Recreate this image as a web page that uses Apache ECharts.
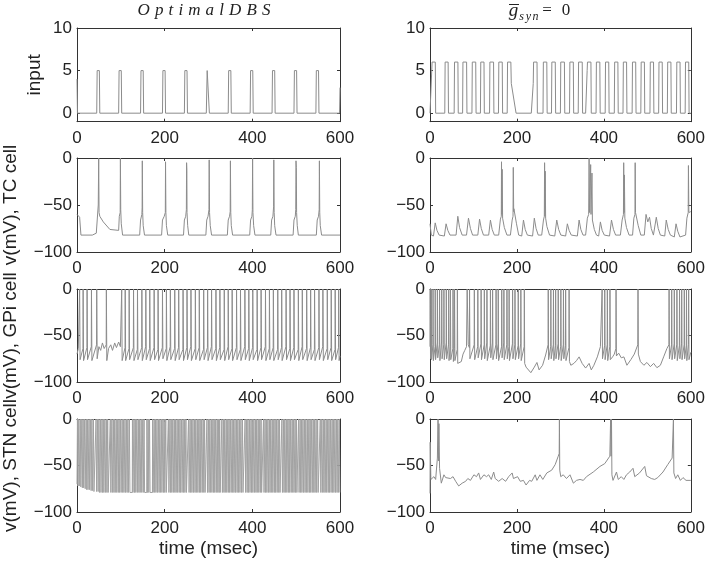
<!DOCTYPE html>
<html><head><meta charset="utf-8">
<script src="https://cdn.jsdelivr.net/npm/echarts@6/dist/echarts.min.js"></script>
<style>html,body{margin:0;padding:0;background:#fff}#c{width:708px;height:565px}</style>
</head><body><div id="c"></div><script>
// ---------- data (time in msec, value) ----------
const xTicks = [0, 200, 400, 600];
const inputTicks = [0, 5, 10];
const voltTicks = [-100, -50, 0];

const inputLeft = [[0,4],[1,0],
[45,0],[46,5],[51,5],[52,0],[95,0],[96,5],[101,5],[102,0],[145,0],[146,5],[151,5],[152,0],
[195,0],[196,5],[201,5],[202,0],[245,0],[246,5],[251,5],[252,0],[295,0],[297,5],[301,5],[302,0],
[345,0],[346,5],[351,5],[352,0],[395,0],[396,5],[401,5],[402,0],[445,0],[446,5],[451,5],[452,0],
[495,0],[496,5],[501,5],[502,0],[545,0],[546,5],[551,5],[552,0],[599,0],[600,3]];

const inputRight = [[0,0],[4,0],[4.8,6],[12.2,6],[13,0],
[34,0],[34.8,6],[41.7,6],[42.5,0],[55.6,0],[56.4,6],[64.2,6],[65,0],[75,0],[75.8,6],[84.2,6],[85,0],
[96.5,0],[97.3,6],[105.2,6],[106,0],[116,0],[116.8,6],[124.2,6],[125,0],[137,0],[137.8,6],[146.2,6],[147,0],
[157.5,0],[158.3,6],[166.2,6],[167,0],[177.6,0],[178.4,6],[186,6],[187,3.5],[198,0],
[233,0],[237.5,3.5],[238.3,6],[246.2,6],[247,0],[260,0],[260.8,6],[268.7,6],[269.5,0],
[279.5,0],[280.3,6],[288.2,6],[289,0],[300,0],[300.8,6],[309.2,6],[310,0],[321,0],[321.8,6],[329.7,6],[330.5,0],
[341,0],[341.8,6],[350.2,6],[351,0],[358,0],[361.5,5],[362.3,6],[370.2,6],[371,0],
[382,0],[382.8,6],[390.7,6],[391.5,0],[403,0],[403.8,6],[411.2,6],[412,0],[424,0],[424.8,6],[432.2,6],[433,0],
[444,0],[444.8,6],[452.2,6],[453,0],[465,0],[465.8,6],[473.2,6],[474,0],[485,0],[485.8,6],[493.2,6],[494,0],
[506,0],[506.8,6],[514.2,6],[515,0],[526,0],[526.8,6],[534.2,6],[535,0],[546,0],[546.8,6],[554.2,6],[555,0],
[567,0],[567.8,6],[575.2,6],[576,0],[587,0],[587.8,6],[595.2,6],[596,0],[600,0]];

const tcLeft = [[0,-60],[4,-61],[6,-63],[9,-82],[35,-82],[44,-80],[47,-78],
[48.5,-50],[49.5,0],[50.3,-58],[52,-62],[60,-68],[75,-76],[95,-77],
[96.5,-62],[98.5,-58],[99,0],[99.8,-55],[101,-70],[104,-82],
[143,-82],[145,-66],[148,-60],[148.6,-53],[149,-3],[149.8,-58],[151,-72],[154,-82],
[193,-82],[195,-66],[199,-62],[201.5,-58],[202,-4],[202.8,-58],[204,-72],[207,-82],
[243,-82],[245,-66],[248,-62],[249.5,-55],[250,-5],[250.6,-13],[251,-58],[252.5,-72],[255,-82],
[294,-82],[296,-66],[299,-62],[301,-55],[301.6,-2],[302.4,-58],[304,-72],[307,-82],
[343,-82],[345,-66],[348,-62],[349.5,-57],[350,-3],[350.8,-58],[352,-72],[355,-82],
[394,-82],[396,-66],[399,-62],[400,-55],[400.6,0],[401.4,-58],[403,-72],[406,-82],
[442,-82],[444,-66],[447,-62],[448.5,-52],[449,-2],[449.8,-58],[451,-72],[454,-82],
[493,-82],[495,-66],[498,-62],[499,-55],[499.6,-3],[500.4,-10],[501,-58],[502.5,-72],[505,-82],
[546,-82],[548,-66],[551,-62],[552.5,-55],[553,-3],[553.8,-58],[555,-72],[558,-82],[600,-82]];

const tcRight = [[0,-70],[3,-82],[8,-83],[12,-69],[16,-77],[21,-82],
[33,-83],[37,-70],[41,-77],[46,-82],[60,-82],[64,-62],[68,-74],[74,-82],
[84,-82],[88.5,-64],[93,-75],[98,-82],[110,-82],[114,-65],[118,-75],[123,-82],
[135,-82],[139,-66],[143,-76],[148,-82],
[158,-82],[162,-65],[164,-62],[164.5,-4],[165.3,-60],[166,-12],[167,-64],[171,-74],[177,-82],
[185,-82],[189,-66],[191,-62],[191.6,-10],[192.5,-57],[193,-54],[197,-55],[199,-70],[204,-82],
[211,-83],[215,-66],[219,-76],[224,-82],[236,-83],[240,-64],[244,-75],[249,-82],
[257,-82],[261,-66],[263,-62],[263.6,-5],[264.5,-62],[265,-14],[266,-64],[269,-73],[275,-82],
[287,-83],[291.6,-66],[296,-76],[301,-82],[312,-83],[316,-70],[320,-77],[325,-82],
[339,-83],[343,-66],[347,-76],[352,-82],
[358,-82],[362,-64],[365,-60],[366,0],[367,-58],[369,-60],[369.6,-7],[370.4,-60],[372,-62],[372.6,-16],[373.6,-66],[378,-76],[383,-82],
[388,-83],[392,-68],[396,-77],[401,-82],[413,-83],[417.5,-66],[422,-76],[427,-82],
[438,-82],[442,-66],[445,-60],[445.6,-5],[446.5,-58],[447.2,-18],[448.2,-64],[452,-74],[458,-82],
[466,-82],[469,-64],[471.5,-60],[472,-5],[472.8,-58],[476,-60],[479,-72],[485,-82],
[493,-82],[497,-60],[501,-68],[505,-63],[509,-75],[514,-82],[517,-83],[520.6,-63],[525,-75],[530,-82],
[540,-83],[543.5,-66],[548,-76],[553,-82],[562,-84],[566,-70],[570,-78],[575,-84],
[588,-82],[591,-64],[594,-58],[594.5,-8],[595.5,-58],[600,-57]];

const gpiLeft = [[0,-70],[3,-64],
[5.6,-62],[6,0],[7,-76],[13.6,-64],[14,0],[15,-77],[22.6,-63],[23,0],[24,-76],[32.6,-62],[33,0],[34,-77],
[44.6,-60],[45,0],[46,-75],[50,-62],[54,-66],[58,-58],[62,-64],
[66.6,-60],[67,0],[68,-77],[72,-64],[77,-60],[81,-66],[86,-58],[90,-63],[95,-57],[99,-62],
[101.6,-62],[102,0],[103,-77],[109.6,-63],[110,0],[111,-77],[118.6,-64],[119,0],[120,-76],
[128.6,-63],[129,0],[130,-77],[137.6,-65],[138,0],[139,-76],[147.6,-63],[148,0],[149,-77],
[156.6,-62],[157,0],[158,-76],[165.6,-64],[166,0],[167,-77],[175.6,-63],[176,0],[177,-76],
[184.6,-65],[185,0],[186,-77],[194.6,-63],[195,0],[196,-75],[203.6,-64],[204,0],[205,-77],
[212.6,-62],[213,0],[214,-76],[222.6,-64],[223,0],[224,-77],[231.6,-63],[232,0],[233,-76],
[241.6,-65],[242,0],[243,-77],[250.6,-63],[251,0],[252,-76],[259.6,-62],[260,0],[261,-77],
[269.6,-64],[270,0],[271,-76],[278.6,-63],[279,0],[280,-77],[288.6,-65],[289,0],[290,-76],
[297.6,-63],[298,0],[299,-77],[306.6,-62],[307,0],[308,-76],[316.6,-64],[317,0],[318,-77],
[325.6,-63],[326,0],[327,-76],[335.6,-65],[336,0],[337,-77],[344.6,-62],[345,0],[346,-76],
[353.6,-64],[354,0],[355,-77],[363.6,-63],[364,0],[365,-76],[372.6,-65],[373,0],[374,-77],
[382.6,-62],[383,0],[384,-76],[391.6,-64],[392,0],[393,-77],[400.6,-63],[401,0],[402,-76],
[410.6,-65],[411,0],[412,-77],[419.6,-63],[420,0],[421,-76],[429.6,-62],[430,0],[431,-77],
[438.6,-64],[439,0],[440,-76],[447.6,-63],[448,0],[449,-77],[457.6,-65],[458,0],[459,-76],
[466.6,-63],[467,0],[468,-77],[476.6,-62],[477,0],[478,-76],[485.6,-64],[486,0],[487,-77],
[494.6,-63],[495,0],[496,-76],[504.6,-65],[505,0],[506,-77],[513.6,-62],[514,0],[515,-76],
[523.6,-64],[524,0],[525,-77],[532.6,-63],[533,0],[534,-76],[541.6,-65],[542,0],[543,-77],
[551.6,-63],[552,0],[553,-76],[560.6,-62],[561,0],[562,-77],[570.6,-64],[571,0],[572,-76],
[579.6,-63],[580,0],[581,-77],[588.6,-65],[589,0],[590,-76],[596.6,-63],[597,0],[598,-77],[600,-72]];

const gpiRight = [[0,-62],[0.4,0],[1.2,-75],[2.6,-62],[3,0],[3.8,-76],[6.6,-60],[7,0],[7.8,-77],
[11.6,-62],[12,0],[12.8,-76],[16.6,-58],[17,0],[17.8,-74],[21.6,-60],[22,0],[22.8,-77],
[26.6,-57],[27,0],[27.8,-75],[31.6,-60],[32,0],[32.8,-76],[37.1,-58],[37.5,0],[38.3,-75],
[42.6,-60],[43,0],[43.8,-77],[46.6,-62],[47,0],[47.8,-76],[52.6,-64],[53,0],[53.8,-78],
[56.1,-64],[56.5,0],[57.3,-77],[62.6,-65],[63,0],[63.8,-80],
[68,-82],[72,-78],[76,-70],[80,-66],[84,-62],[85.5,0],[88,-60],
[90.6,-63],[91,0],[91.8,-75],[101.6,-60],[102,0],[102.8,-76],[109.6,-62],[110,0],[110.8,-74],
[117.2,-59],[117.6,0],[118.4,-76],[124.6,-60],[125,0],[125.8,-75],[130.6,-58],[131,0],[131.8,-77],
[138.6,-61],[139,0],[139.8,-74],[143.6,-58],[144,0],[144.8,-76],[151.6,-60],[152,0],[152.8,-75],
[156.6,-59],[157,0],[157.8,-77],[164.6,-62],[165,0],[165.8,-74],[169.6,-58],[170,0],[170.8,-76],
[176.6,-60],[177,0],[177.8,-75],[181.6,-62],[182,0],[182.8,-77],[189.6,-59],[190,0],[190.8,-75],
[195.1,-60],[195.5,0],[196.3,-76],[202.6,-61],[203,0],[203.8,-75],[208.6,-59],[209,0],[209.8,-77],
[216.6,-62],[217,0],[217.8,-80],
[221,-84],[224,-85],[232,-90],[240,-84],[246,-79],[251,-87],[259,-82],[266,-71],
[271.6,-60],[272,0],[272.8,-76],[277.6,-62],[278,0],[278.8,-75],[283.6,-60],[284,0],[284.8,-77],
[288.6,-61],[289,0],[289.8,-75],[294.6,-59],[295,0],[295.8,-76],[300.6,-62],[301,0],[301.8,-77],
[306.6,-60],[307,0],[307.8,-75],[311.6,-61],[312,0],[312.8,-77],[319.6,-63],[320,0],[320.8,-78],
[324,-82],[331,-80],[337,-77],[343,-73],[350,-80],[358,-85],[366,-80],[371,-87],[377,-82],[385,-73],[392,-62],
[395.6,-60],[396,0],[396.8,-75],[401.6,-61],[402,0],[402.8,-76],[407.6,-60],[408,0],[408.8,-77],
[413.6,-62],[414,0],[414.8,-76],[420,-73],[424,-70],[427.6,-64],[428,0],[428.8,-72],
[434,-69],[440,-74],[446,-73],[453,-82],[462,-76],[470,-70],[478,-60],[478.5,0],[479.3,-70],
[484,-78],[492,-82],[499,-79],[507,-83.5],[514.5,-80],[522,-84.6],[530,-82],[537.5,-73],[545,-64],
[549.6,-60],[550,0],[550.8,-75],[555.6,-60],[556,0],[556.8,-76],[561.6,-59],[562,0],[562.8,-75],
[567.6,-60],[568,0],[568.8,-77],[573.6,-61],[574,0],[574.8,-75],[578.6,-59],[579,0],[579.8,-76],
[584.6,-60],[585,0],[585.8,-75],[589.6,-61],[590,0],[590.8,-77],[594.6,-60],[595,0],[595.8,-76],[600,-68]];

const stnLeft = [[0,-70],
[1,0],[2.2,-72],[4,0],[5.2,-72],[7.5,0],[8.7,-73],[11,0],[12.2,-74],[14,0],[15.2,-74],[17.5,0],[18.7,-75],
[21,0],[22.2,-76],[24,0],[25.2,-76],[27.5,0],[28.7,-76],[31,0],[32.2,-77],[34,0],[35.2,-77],[37.5,0],[38.7,-78],
[43.1,-78],[43.5,0],[44.7,-78],[47,0],[48.2,-78],[50,0],[51.2,-79],[53.5,0],[54.7,-79],[57,0],[58.2,-79],
[60,0],[61.2,-79],[63.5,0],[64.7,-79],[67,0],[68.2,-79],[70,0],[71.2,-79],
[75.6,-79],[76,0],[77.2,-79],[79.5,0],[80.7,-79],[83,0],[84.2,-79],[86,0],[87.2,-79],[89.5,0],[90.7,-79],
[93,0],[94.2,-79],[96,0],[97.2,-79],[99.5,0],[100.7,-79],[103,0],[104.2,-79],[106,0],[107.2,-79],
[109.5,0],[110.7,-79],[113,0],[114.2,-79],[116,0],[117.2,-79],[119.5,0],[120.7,-79],
[126.1,-79],[126.5,0],[127.7,-79],[130,0],[131.2,-79],[133,0],[134.2,-79],[136.5,0],[137.7,-79],
[140,0],[141.2,-79],[143,0],[144.2,-79],[146.5,0],[147.7,-79],[150,0],[151.2,-79],[153,0],[154.2,-79],
[159.1,-79],[159.5,0],[160.7,-79],[162.5,0],[163.7,-79],[165.5,0],[166.7,-79],
[172.1,-79],[172.5,0],[173.7,-79],[176,0],[177.2,-79],[179,0],[180.2,-79],[182.5,0],[183.7,-79],
[186,0],[187.2,-79],[189,0],[190.2,-79],[192.5,0],[193.7,-79],[196,0],[197.2,-79],[199,0],[200.2,-79],
[202.5,0],[203.7,-79],
[208.1,-79],[208.5,0],[209.7,-79],[212,0],[213.2,-79],[215,0],[216.2,-79],[218.5,0],[219.7,-79],
[222,0],[223.2,-79],[225,0],[226.2,-79],[228.5,0],[229.7,-79],[232,0],[233.2,-79],[235,0],[236.2,-79],
[238.5,0],[239.7,-79],[242,0],[243.2,-79],[245,0],[246.2,-79],[248.5,0],[249.7,-79],
[254.1,-79],[254.5,0],[255.7,-79],[258,0],[259.2,-79],[261,0],[262.2,-79],[264.5,0],[265.7,-79],
[268,0],[269.2,-79],[271,0],[272.2,-79],[274.5,0],[275.7,-79],[278,0],[279.2,-79],[281,0],[282.2,-79],
[284.5,0],[285.7,-79],[288,0],[289.2,-79],[291,0],[292.2,-79],
[296.1,-79],[296.5,0],[297.7,-79],[300,0],[301.2,-79],[303,0],[304.2,-79],[306.5,0],[307.7,-79],
[310,0],[311.2,-79],[313,0],[314.2,-79],[316.5,0],[317.7,-79],[320,0],[321.2,-79],[323,0],[324.2,-79],
[325.5,0],[326.7,-79],
[330.1,-79],[330.5,0],[331.7,-79],[334,0],[335.2,-79],[337,0],[338.2,-79],[340.5,0],[341.7,-79],
[344,0],[345.2,-79],[347,0],[348.2,-79],[350.5,0],[351.7,-79],[354,0],[355.2,-79],[357,0],[358.2,-79],
[360.5,0],[361.7,-79],[364,0],[365.2,-79],[367,0],[368.2,-79],[370.5,0],[371.7,-79],[374,0],[375.2,-79],
[377.5,0],[378.7,-79],
[383.1,-79],[383.5,0],[384.7,-79],[387,0],[388.2,-79],[390,0],[391.2,-79],[393.5,0],[394.7,-79],
[397,0],[398.2,-79],[400,0],[401.2,-79],[403.5,0],[404.7,-79],[407,0],[408.2,-79],[410,0],[411.2,-79],
[413.5,0],[414.7,-79],[417,0],[418.2,-79],[420,0],[421.2,-79],
[425.1,-79],[425.5,0],[426.7,-79],[429,0],[430.2,-79],[432,0],[433.2,-79],[435.5,0],[436.7,-79],
[439,0],[440.2,-79],[442,0],[443.2,-79],[445.5,0],[446.7,-79],[449,0],[450.2,-79],[452,0],[453.2,-79],
[455.5,0],[456.7,-79],[459,0],[460.2,-79],[462,0],[463.2,-79],
[467.1,-79],[467.5,0],[468.7,-79],[471,0],[472.2,-79],[474,0],[475.2,-79],[477.5,0],[478.7,-79],
[481,0],[482.2,-79],[484,0],[485.2,-79],[487.5,0],[488.7,-79],[491,0],[492.2,-79],[494,0],[495.2,-79],
[497.5,0],[498.7,-79],[500.5,0],[501.7,-79],
[505.1,-79],[505.5,0],[506.7,-79],[509,0],[510.2,-79],[512,0],[513.2,-79],[515.5,0],[516.7,-79],
[519,0],[520.2,-79],[522,0],[523.2,-79],[525.5,0],[526.7,-79],[529,0],[530.2,-79],[532,0],[533.2,-79],
[535.5,0],[536.7,-79],[539,0],[540.2,-79],[542,0],[543.2,-79],[545.5,0],[546.7,-79],[549,0],[550.2,-79],
[554.6,-79],[555,0],[556.2,-79],[558.5,0],[559.7,-79],[562,0],[563.2,-79],[565,0],[566.2,-79],
[568.5,0],[569.7,-79],[572,0],[573.2,-79],[575,0],[576.2,-79],[578.5,0],[579.7,-79],[582,0],[583.2,-79],
[585,0],[586.2,-79],[588.5,0],[589.7,-79],[592,0],[593.2,-79],[595,0],[596.2,-79],[598.5,0],[599.7,-79],[600,-79]];

const stnRight = [[0,-80],[0.5,-25],[2,-65],[9,-62],[13,-65],[17,-42],[18.5,0],[19.5,-45],[20.5,-5],[22,-53],
[26,-69],[32,-60],[36,-63],[40,-61],[47,-64],[53,-62],[59,-67],[66,-72],[74,-69],[82,-67],[87,-64],[93,-66],
[101,-60],[107,-62],[112,-58],[116,-65],[124,-60],[130,-62],[135,-60],[141,-65],[146.5,-57],[150,-64],
[158,-67],[166,-64],[174,-67],[181,-62],[189,-58],[192,-64],[201.5,-62],[207.6,-67],[215,-66],[221,-71],
[229,-66],[234,-67],[242,-60],[246,-66],[253,-60],[259.5,-65],[268.7,-58],[280,-55],[288,-49],[295,-40],
[297.2,-37],[297.7,0],[298.5,-55],[300.8,-62],[306.5,-60],[314,-64],[322,-60],[329.8,-69],[337,-66],
[345,-65],[352.7,-66],[360,-62],[375.6,-57],[391,-51],[402,-48],[413.7,-40],[415,-38],[415.5,0],[416.5,-40],
[417.5,0],[418.5,-60],[421,-66],[429,-57],[433,-65],[440,-62],[446,-65],[452,-60],[459.5,-57],[467,-53],
[471,-62],[482,-58],[494,-51],[498,-61],[509,-64],[517,-65],[524,-63],[536,-57],[547,-49],[557,-42],
[559.5,-40],[560,0],[561,-58],[565,-64],[570,-60],[576,-66],[582,-63],[589,-66],[600,-66]];

// ---------- layout ----------
const FONT = "'Liberation Sans', Arial, Helvetica, sans-serif";
const SERIF = "'Liberation Serif', 'DejaVu Serif', serif";
const colX = [77, 430], colW = [263, 262];
const rowY = [28, 158, 289, 419], rowH = [93.7, 94, 93, 93];
const LINE = '#8c8c8c';

const panels = [
  {data: inputLeft,  col:0, row:0, name:'input', gap:33},
  {data: inputRight, col:1, row:0},
  {data: tcLeft,     col:0, row:1, name:'v(mV), TC cell', gap:57},
  {data: tcRight,    col:1, row:1},
  {data: gpiLeft,    col:0, row:2, name:'v(mV), GPi cell', gap:57},
  {data: gpiRight,   col:1, row:2},
  {data: stnLeft,    col:0, row:3, name:'v(mV), STN cell', gap:57, color:'#a2a2a2'},
  {data: stnRight,   col:1, row:3}
];

const grid = [], xAxis = [], yAxis = [], series = [];
const axLine = {show:true, onZero:false, lineStyle:{color:'#333', width:1}};
const tickStyle = {color:'#222', fontSize:17, fontFamily:FONT};
const nameStyle = {color:'#222', fontSize:19, fontFamily:FONT};
const fmt = v => String(v).replace('-', '\u2212');

panels.forEach((p, i) => {
  grid.push({left:colX[p.col], top:rowY[p.row], width:colW[p.col], height:rowH[p.row]});
  const tick = {show:true, inside:true, length:3, lineStyle:{color:'#333'}};
  xAxis.push({gridIndex:i, type:'value', min:0, max:600, interval:200, position:'bottom',
    axisLine:axLine, axisTick:tick, splitLine:{show:false},
    axisLabel:Object.assign({margin:8}, tickStyle),
    name: p.row === 3 ? 'time (msec)' : '', nameLocation:'middle', nameGap:27,
    nameTextStyle:nameStyle});
  xAxis.push({gridIndex:i, type:'value', min:0, max:600, interval:200, position:'top',
    axisLine:axLine, axisTick:tick, splitLine:{show:false}, axisLabel:{show:false}});
  const isInput = p.row === 0;
  const yRange = isInput ? {min:-1, max:10} : {min:-100, max:0, interval:50};
  const yTick = isInput ? Object.assign({customValues:inputTicks}, tick) : tick;
  const yLab = Object.assign({margin:5, formatter:fmt}, tickStyle, isInput ? {customValues:inputTicks} : {});
  yAxis.push(Object.assign({gridIndex:i, type:'value', position:'left', axisLine:axLine,
    axisTick:yTick, axisLabel:yLab, splitLine:{show:false},
    name:p.name || '', nameLocation:'middle', nameGap:p.gap || 0, nameTextStyle:nameStyle}, yRange));
  yAxis.push(Object.assign({gridIndex:i, type:'value', position:'right', axisLine:axLine,
    axisTick:yTick, axisLabel:{show:false}, splitLine:{show:false}}, yRange));
  series.push({type:'line', xAxisIndex:2*i, yAxisIndex:2*i, data:p.data, showSymbol:false,
    symbol:'none', silent:true, lineStyle:{color:p.color || LINE, width:1}});
});

// title: math-italic letters with even gaps
const titleWord = 'OptimalDBS';
const glyphW = {O:12.3, p:8.5, t:4.7, i:4.7, m:12.3, a:8.5, l:4.7, D:12.3, B:10.4, S:8.5};
const rich = {};
titleWord.split('').forEach((c, k) => {
  rich['c' + k] = {width: glyphW[c] + 5.1, align:'center', fontFamily:SERIF, fontStyle:'italic', fontSize:17, fill:'#222'};
});
const titleText = titleWord.split('').map((c, k) => '{c' + k + '|' + c + '}').join('');

const graphic = [
  {type:'text', x:204, y:11, style:{text:titleText, align:'center', verticalAlign:'middle', rich}},
  {type:'text', x:513.5, y:11, style:{text:'g', align:'center', verticalAlign:'middle',
    font:'italic 19px ' + SERIF, fill:'#222'}},
  {type:'line', shape:{x1:509, y1:4.5, x2:519, y2:4.5}, style:{stroke:'#222', lineWidth:1}},
  {type:'text', x:528.5, y:17, style:{text:'{s|s}{s|y}{s|n}', align:'center', verticalAlign:'middle',
    rich:{s:{width:7, align:'center', fontFamily:SERIF, fontStyle:'italic', fontSize:12, fill:'#222'}}}},
  {type:'text', x:547, y:11, style:{text:'=', align:'center', verticalAlign:'middle',
    font:'17px ' + SERIF, fill:'#222'}},
  {type:'text', x:566, y:11, style:{text:'0', align:'center', verticalAlign:'middle',
    font:'17px ' + SERIF, fill:'#222'}}
];

const chart = echarts.init(document.getElementById('c'), null, {renderer:'canvas'});
chart.setOption({animation:false, backgroundColor:'#fff', grid, xAxis, yAxis, series, graphic});
</script></body></html>
